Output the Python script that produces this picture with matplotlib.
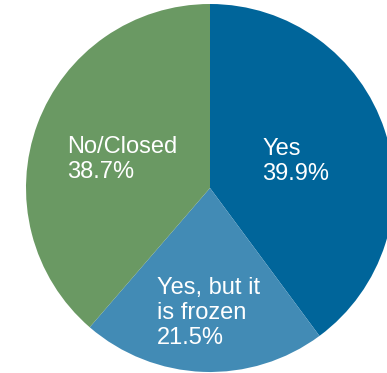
import matplotlib

matplotlib.use("Agg")
import matplotlib.pyplot as plt

labels = ["Yes", "Yes, but it\nis frozen", "No/Closed"]
shares = [39.9, 21.5, 38.7]
colors = ["#00659A", "#428BB5", "#6A9963"]

# label anchor (left/top) in axes-data coordinates, pie radius = 1
label_pos = [(0.285, 0.27), (-0.29, -0.485), (-0.775, 0.28)]

W, H = 387, 373
fig = plt.figure(figsize=(W / 100, H / 100), dpi=100)
cx, cy, r = 210, 188, 184
ax = fig.add_axes([(cx - r) / W, (H - cy - r) / H, 2 * r / W, 2 * r / H])

ax.pie(shares, colors=colors, startangle=90, counterclock=False,
       radius=1, wedgeprops=dict(linewidth=0), frame=True)
ax.set_xlim(-1, 1)
ax.set_ylim(-1, 1)
ax.axis("off")

for lab, val, (x, y) in zip(labels, shares, label_pos):
    ax.text(x, y, f"{lab}\n{val:.1f}%", color="white", fontsize=17,
            family=["Liberation Sans", "DejaVu Sans"], ha="left", va="top",
            linespacing=1.17)

fig.savefig("out.png", dpi=100)
